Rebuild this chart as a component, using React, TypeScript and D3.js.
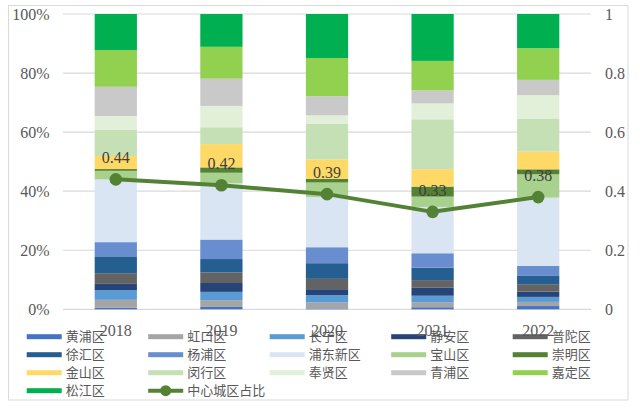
import React from "react";
import * as d3 from "d3";

const years = ["2018", "2019", "2020", "2021", "2022"];
const districts = [
  "黄浦区", "虹口区", "长宁区", "静安区", "普陀区", "徐汇区", "杨浦区", "浦东新区",
  "宝山区", "崇明区", "金山区", "闵行区", "奉贤区", "青浦区", "嘉定区", "松江区",
];
const districtColors = [
  "#4472C4", "#A5A5A5", "#5B9BD5", "#264478", "#636363", "#255E91", "#698ED0", "#DAE5F3",
  "#A9D18E", "#548235", "#FFD966", "#C5E0B4", "#E2F0D9", "#C9C9C9", "#92D050", "#00B050",
];
// share (%) of each district, in the order of `districts`
const share2018 = [0.5, 2.7, 3.3, 2.1, 3.6, 5.7, 4.8, 21.2, 2.9, 0.6, 4.4, 8.8, 4.7, 9.9, 12.4, 12.2];
const share2019 = [0.8, 2.3, 2.8, 3.0, 3.6, 4.5, 6.6, 19.0, 3.6, 1.8, 7.9, 5.7, 7.2, 9.2, 10.8, 11.1];
const share2020 = [0.3, 2.0, 2.5, 2.0, 3.5, 5.3, 5.4, 17.0, 4.9, 1.2, 6.6, 12.0, 2.9, 6.5, 12.9, 14.9];
const share2021 = [0.7, 1.7, 2.2, 2.7, 2.6, 4.2, 4.9, 15.7, 3.5, 3.4, 5.9, 16.9, 5.4, 4.4, 10.0, 15.9];
const share2022 = [1.1, 1.4, 1.7, 1.8, 2.5, 2.8, 3.4, 23.1, 7.9, 1.7, 6.0, 11.2, 7.9, 5.2, 10.7, 11.6];
const centralShare = [0.44, 0.42, 0.39, 0.33, 0.38];
const leftTicks = [0, 0.2, 0.4, 0.6, 0.8, 1];
const leftTickLabels = ["0%", "20%", "40%", "60%", "80%", "100%"];
const rightTickLabels = ["0", "0.2", "0.4", "0.6", "0.8", "1"];
const lineName = "中心城区占比";

const W = 640;
const H = 412;
const plot = { left: 63, right: 591, top: 14, bottom: 309.3 };
const serif = '"Liberation Serif", "Times New Roman", serif';
const cjk = '"Noto Sans CJK SC", "Noto Sans", sans-serif';
const textColor = "#595959";

export default function App() {
  const shares = [share2018, share2019, share2020, share2021, share2022];
  const table = years.map((y, i) => {
    const row: Record<string, number | string> = { year: y };
    districts.forEach((d, j) => (row[d] = shares[i][j]));
    return row;
  });
  const stack = d3
    .stack<Record<string, number | string>>()
    .keys(districts)
    .offset(d3.stackOffsetExpand);
  const series = stack(table as any);

  const x = d3.scaleBand<string>().domain(years).range([plot.left, plot.right]).paddingInner(0.6).paddingOuter(0.3);
  const yL = d3.scaleLinear().domain([0, 1]).range([plot.bottom, plot.top]);
  const yR = d3.scaleLinear().domain([0, 1]).range([plot.bottom, plot.top]);
  const cx = (y: string) => (x(y) as number) + x.bandwidth() / 2;

  const line = d3
    .line<number>()
    .x((_, i) => cx(years[i]))
    .y((v) => yR(v));

  const legendItems = [...districts.map((d, i) => ({ name: d, color: districtColors[i], isLine: false })), { name: lineName, color: "#548235", isLine: true }];
  const colX0 = 26.7;
  const colStep = 121.5;
  const rowY0 = 336.7;
  const rowStep = 18;

  return (
    <svg width={W} height={H} style={{ position: "absolute", left: 0, top: 0, background: "#fff" }}>
      <rect x={8.5} y={5.5} width={619.5} height={394.5} fill="#fff" stroke="#d9d9d9" strokeWidth={1} />
      {leftTicks.map((t) => (
        <line key={t} x1={plot.left} x2={plot.right} y1={yL(t)} y2={yL(t)} stroke="#d9d9d9" strokeWidth={1.2} />
      ))}
      {series.map((s, si) => (
        <g key={districts[si]} fill={districtColors[si]}>
          {s.map((d, i) => (
            <rect key={i} x={x(years[i])} width={x.bandwidth()} y={yL(d[1])} height={Math.max(0, yL(d[0]) - yL(d[1]))} />
          ))}
        </g>
      ))}
      <path d={line(centralShare) || ""} fill="none" stroke="#548235" strokeWidth={4} strokeLinejoin="round" />
      {centralShare.map((v, i) => (
        <circle key={i} cx={cx(years[i])} cy={yR(v)} r={6.3} fill="#548235" />
      ))}
      {centralShare.map((v, i) => (
        <text key={i} x={cx(years[i])} y={yR(v) - 16} textAnchor="middle" fontFamily={serif} fontSize={16} fill="#404040">
          {v.toFixed(2)}
        </text>
      ))}
      {leftTicks.map((t, i) => (
        <text key={t} x={49.5} y={yL(t) + 5.5} textAnchor="end" fontFamily={serif} fontSize={16} fill={textColor}>
          {leftTickLabels[i]}
        </text>
      ))}
      {leftTicks.map((t, i) => (
        <text key={t} x={605} y={yR(t) + 5.5} textAnchor="start" fontFamily={serif} fontSize={16} fill={textColor}>
          {rightTickLabels[i]}
        </text>
      ))}
      {legendItems.map((it, i) => {
        const col = i % 5;
        const row = Math.floor(i / 5);
        const lx = colX0 + col * colStep;
        const ly = rowY0 + row * rowStep;
        return (
          <g key={it.name}>
            {it.isLine ? (
              <g>
                <line x1={lx} x2={lx + 35} y1={ly} y2={ly} stroke={it.color} strokeWidth={4} />
                <circle cx={lx + 17.5} cy={ly} r={5.5} fill={it.color} />
              </g>
            ) : (
              <rect x={lx} y={ly - 2.5} width={35} height={5} fill={it.color} />
            )}
            <text x={lx + 39} y={ly + 4.5} fontFamily={cjk} fontSize={13} fill={textColor}>
              {it.name}
            </text>
          </g>
        );
      })}
      {years.map((y) => (
        <text key={y} x={cx(y)} y={335.5} textAnchor="middle" fontFamily={serif} fontSize={16} fill={textColor}>
          {y}
        </text>
      ))}
    </svg>
  );
}
